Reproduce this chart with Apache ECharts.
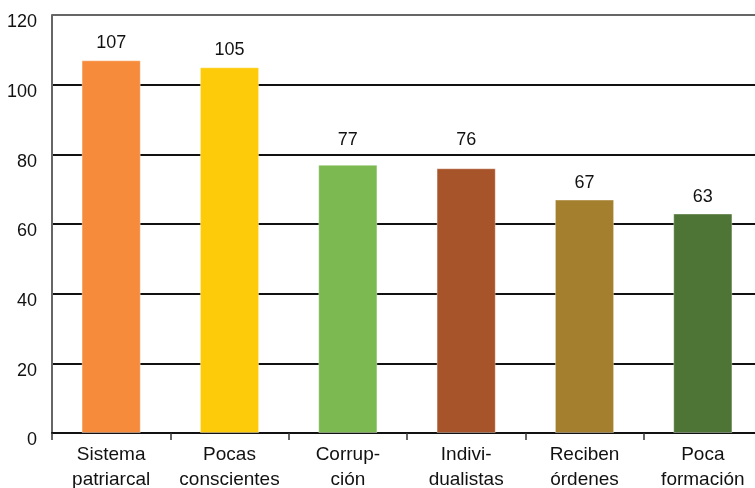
<!DOCTYPE html>
<html><head><meta charset="utf-8">
<script src="https://cdn.jsdelivr.net/npm/echarts@6/dist/echarts.min.js"></script>
<style>html,body{margin:0;padding:0;background:#fff}#c{width:755px;height:488px}</style>
</head><body><div id="c"></div>
<script>
const categories = ['Sistema\npatriarcal','Pocas\nconscientes','Corrup-\nción','Indivi-\ndualistas','Reciben\nórdenes','Poca\nformación'];
const values = [107,105,77,76,67,63];
const barColors = ['#F68B3C','#FDCB0A','#7CB951','#A8542A','#A47F2E','#4E7536'];
const yTicks = {min:0,max:120,interval:20};

const font = 'Liberation Sans, Arial, Helvetica, sans-serif';
const gridH = 418;
const pxPerUnit = gridH / (yTicks.max - yTicks.min);
const baseDist = 8, textH = 14;
// keep value labels clear of gridlines (lift label above a gridline it would cross)
function labelDistance(v){
  const lo = v + baseDist/pxPerUnit, hi = v + (baseDist+textH)/pxPerUnit;
  for (let t = yTicks.min; t <= yTicks.max; t += yTicks.interval){
    if (t > lo && t < hi) return (t - v) * pxPerUnit + 5;
  }
  return baseDist;
}
const chart = echarts.init(document.getElementById('c'));
chart.setOption({
  animation:false,
  grid:{left:52,top:15,width:710,height:gridH,containLabel:false,outerBoundsMode:'none'},
  xAxis:{type:'category',data:categories,
    axisLine:{lineStyle:{color:'#111',width:2}},
    axisTick:{show:true,length:7,lineStyle:{color:'#333',width:1.5}},
    axisLabel:{color:'#111',fontFamily:font,fontSize:19,lineHeight:25,margin:9,interval:0}
  },
  yAxis:{type:'value',min:yTicks.min,max:yTicks.max,interval:yTicks.interval,
    axisLine:{show:true,lineStyle:{color:'#666',width:2}},
    axisTick:{show:false},
    axisLabel:{color:'#111',fontFamily:font,fontSize:18,margin:15,verticalAlign:'top',lineHeight:15},
    splitLine:{show:true,lineStyle:{color:['#111','#111','#111','#111','#111','#111','#666'],width:2}}
  },
  series:[{type:'bar',data:values.map((v,i)=>({value:v,
      itemStyle:{color:barColors[i],borderColor:'rgba(255,255,255,0.35)',borderWidth:1},
      label:{distance:labelDistance(v)}})),
    barWidth:'50%',
    label:{show:true,position:'top',color:'#111',fontFamily:font,fontSize:18}
  }]
});
</script></body></html>
